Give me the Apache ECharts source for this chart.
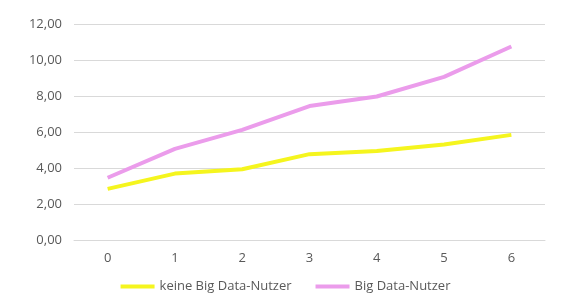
<!DOCTYPE html>
<html><head><meta charset="utf-8">
<script src="https://cdn.jsdelivr.net/npm/echarts@6/dist/echarts.min.js"></script>
<style>html,body{margin:0;padding:0;background:#fff}#c{width:571px;height:307px}</style>
</head><body><div id="c"></div>
<script>
const categories = ['0','1','2','3','4','5','6'];
const keineBigData = [2.84, 3.69, 3.93, 4.77, 4.95, 5.30, 5.84];
const bigData = [3.46, 5.06, 6.12, 7.44, 7.97, 9.06, 10.75];
const yTicks = {min: 0, max: 12, interval: 2};
const seriesNames = ['keine Big Data-Nutzer', 'Big Data-Nutzer'];

const chart = echarts.init(document.getElementById('c'));
const font = 'Open Sans';
chart.setOption({
  animation: false,
  backgroundColor: '#fff',
  grid: {left: 74, right: 26, top: 24, bottom: 67},
  legend: {
    bottom: 9, left: 'center', itemWidth: 34, itemHeight: 4, itemGap: 24,
    icon: 'rect',
    textStyle: {color: '#595959', fontFamily: font, fontSize: 13},
    data: seriesNames
  },
  xAxis: {
    type: 'category', data: categories, boundaryGap: true,
    axisLine: {show: true, lineStyle: {color: '#d9d9d9'}},
    axisTick: {show: false},
    axisLabel: {color: '#595959', fontFamily: font, fontSize: 13, margin: 12}
  },
  yAxis: {
    type: 'value', min: yTicks.min, max: yTicks.max, interval: yTicks.interval,
    axisLine: {show: false}, axisTick: {show: false},
    splitLine: {lineStyle: {color: '#d9d9d9', width: 1}},
    axisLabel: {color: '#595959', fontFamily: font, fontSize: 13, margin: 12,
      formatter: v => v.toFixed(2).replace('.', ',')}
  },
  series: [
    {name: seriesNames[0], type: 'line', data: keineBigData, symbol: 'none',
      lineStyle: {color: '#F5F51E', width: 4}, itemStyle: {color: '#F5F51E'}},
    {name: seriesNames[1], type: 'line', data: bigData, symbol: 'none',
      lineStyle: {color: '#EB9CEB', width: 4}, itemStyle: {color: '#EB9CEB'}}
  ]
});
</script></body></html>
